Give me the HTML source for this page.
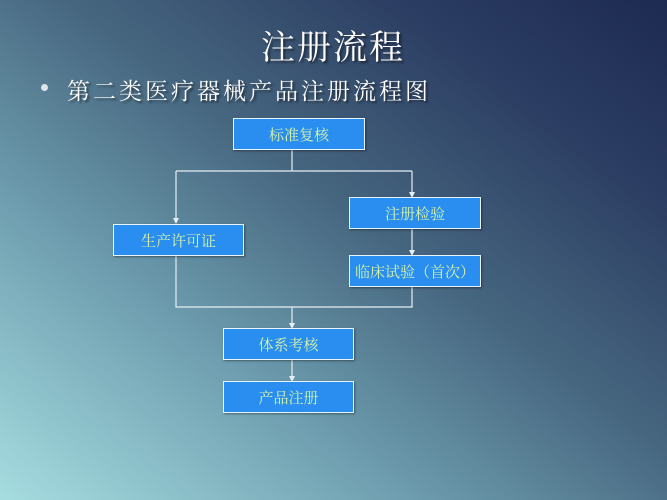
<!DOCTYPE html>
<html><head><meta charset="utf-8"><style>
html,body{margin:0;padding:0}
body{width:667px;height:500px;position:relative;overflow:hidden;
background:linear-gradient(to top right,#a6dde0 0%,#6f9fb0 30%,#46667f 55%,#2b3d62 80%,#1d2a52 100%);
font-family:"Liberation Sans","Noto Sans CJK SC",sans-serif;}
.t{position:absolute;color:#fff;white-space:nowrap;font-family:"Liberation Serif","Noto Serif CJK SC",serif;text-shadow:2px 2px 2px rgba(0,0,0,.5)}
.b{position:absolute;box-sizing:border-box;background:#2a8ef0;border:1px solid #e8f4ff;color:#d8f4a8;font-size:15px;display:flex;align-items:center;justify-content:center;font-family:"Liberation Serif","Noto Serif CJK SC",serif;box-shadow:1px 1px 2px rgba(0,0,0,.4)}
.dot{position:absolute;left:41px;top:84px;width:7px;height:7px;border-radius:50%;background:#dde6ee}
</style></head><body>
<div class="t" style="left:261px;top:20px;font-size:34px;letter-spacing:2px">注册流程</div>
<div class="dot"></div>
<div class="t" style="left:67px;top:73px;font-size:23px;letter-spacing:3px">第二类医疗器械产品注册流程图</div>
<svg width="667" height="500" style="position:absolute;left:0;top:0" fill="none" stroke="#e6eef5" stroke-width="1.2">
<path d="M292 150V171M176 171H412M176 171V222M412 171V195M412 229V253M176 256V307H412V287M292 307V326M292 360V379"/>
<g fill="#e6eef5" stroke="none">
<path d="M173 218h6l-3 6z"/><path d="M409 192h6l-3 6z"/><path d="M409 250h6l-3 6z"/><path d="M289 323h6l-3 6z"/><path d="M289 376h6l-3 6z"/>
</g></svg>
<div class="b" style="left:233px;top:118px;width:132px;height:32px">标准复核</div>
<div class="b" style="left:349px;top:197px;width:132px;height:32px">注册检验</div>
<div class="b" style="left:113px;top:224px;width:131px;height:32px">生产许可证</div>
<div class="b" style="left:349px;top:255px;width:132px;height:32px">临床试验（首次）</div>
<div class="b" style="left:223px;top:328px;width:131px;height:32px">体系考核</div>
<div class="b" style="left:223px;top:381px;width:131px;height:32px">产品注册</div>
</body></html>
